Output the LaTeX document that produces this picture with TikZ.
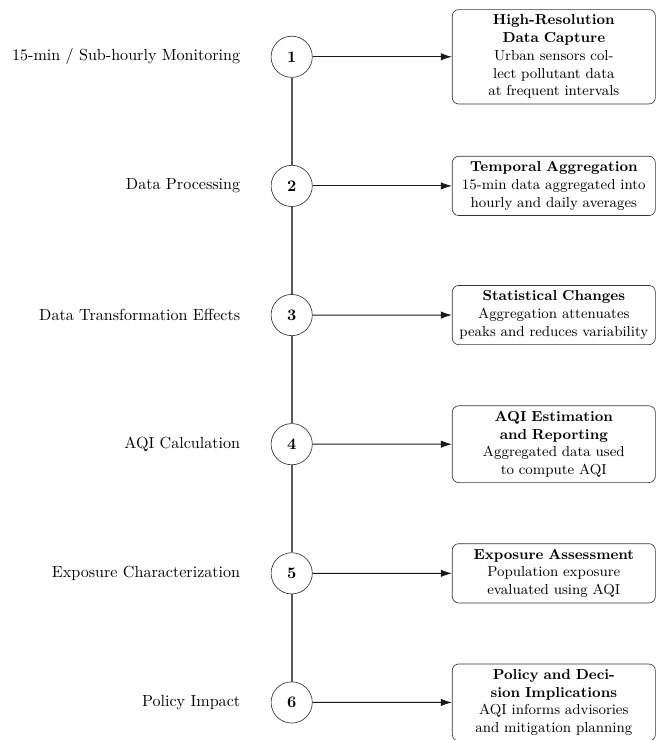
\documentclass[tikz,border=0pt]{standalone}
\usetikzlibrary{arrows.meta,positioning}
\begin{document}
\begin{tikzpicture}[
  stepcirc/.style={circle,draw=black!80,minimum size=0.9cm,inner sep=0pt,font=\bfseries,fill=white},
  infobox/.style={draw=black!80,rounded corners=4pt,text width=4.2cm,align=center,font=\small,anchor=west},
  lbl/.style={anchor=east},
  conn/.style={semithick,black!90,-{Latex[length=2.4mm,width=1.6mm]}},
  spine/.style={line width=1.2pt,black!65}
]
\useasboundingbox (-6.37,1.24) rectangle (8.08,-14.92);

\foreach \i/\lab in {1/{15-min / Sub-hourly Monitoring},2/{Data Processing},3/{Data Transformation Effects},4/{AQI Calculation},5/{Exposure Characterization},6/{Policy Impact}}{
  \node[stepcirc] (c\i) at (0,{-2.82*(\i-1)}) {\i};
  \node[lbl] (l\i) at (-1,{-2.82*(\i-1)}) {\lab};
}

\node[infobox] (b1) at (3.5,0) {\textbf{High-Resolution Data Capture}\\Urban sensors collect pollutant data at frequent intervals};
\node[infobox] (b2) at (3.5,-2.82) {\textbf{Temporal Aggregation}\\15-min data aggregated into hourly and daily averages};
\node[infobox] (b3) at (3.5,-5.64) {\textbf{Statistical Changes}\\Aggregation attenuates peaks and reduces variability};
\node[infobox] (b4) at (3.5,-8.46) {\textbf{AQI Estimation and Reporting}\\Aggregated data used\\to compute AQI};
\node[infobox] (b5) at (3.5,-11.28) {\textbf{Exposure Assessment}\\Population exposure evaluated using AQI};
\node[infobox] (b6) at (3.5,-14.1) {\textbf{Policy and Decision Implications}\\AQI informs advisories and mitigation planning};

\foreach \a/\b in {1/2,2/3,3/4,4/5,5/6}{
  \draw[spine] (c\a) -- (c\b);
}
\foreach \i in {1,...,6}{
  \draw[conn] (c\i) -- (b\i);
}
\end{tikzpicture}
\end{document}
